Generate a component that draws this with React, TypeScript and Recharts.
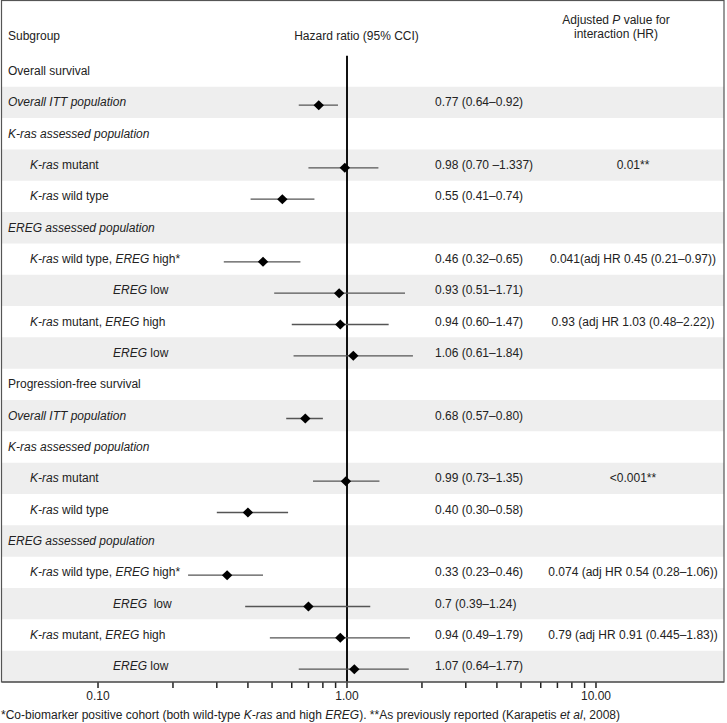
import React from 'react';
import {
  ScatterChart,
  Scatter,
  XAxis,
  YAxis,
  ErrorBar,
  ReferenceArea,
  ReferenceLine,
} from 'recharts';

// ---------- data ----------
const rowLabels: string[] = [
  'Overall survival',
  '_Overall ITT population_',
  '_K-ras assessed population_',
  '_K-ras_ mutant',
  '_K-ras_ wild type',
  '_EREG assessed population_',
  '_K-ras_ wild type, _EREG_ high*',
  '_EREG_ low',
  '_K-ras_ mutant, _EREG_ high',
  '_EREG_ low',
  'Progression-free survival',
  '_Overall ITT population_',
  '_K-ras assessed population_',
  '_K-ras_ mutant',
  '_K-ras_ wild type',
  '_EREG assessed population_',
  '_K-ras_ wild type, _EREG_ high*',
  '_EREG_  low',
  '_K-ras_ mutant, _EREG_ high',
  '_EREG_ low',
];
const rowLevels: number[] = [0, 0, 0, 1, 1, 0, 1, 2, 1, 2, 0, 0, 0, 1, 1, 0, 1, 2, 1, 2];
const hazardRatios: (number | null)[] = [
  null, 0.77, null, 0.98, 0.55, null, 0.46, 0.93, 0.94, 1.06,
  null, 0.68, null, 0.99, 0.4, null, 0.33, 0.7, 0.94, 1.07,
];
const ciLower: (number | null)[] = [
  null, 0.64, null, 0.7, 0.41, null, 0.32, 0.51, 0.6, 0.61,
  null, 0.57, null, 0.73, 0.3, null, 0.23, 0.39, 0.49, 0.64,
];
const ciUpper: (number | null)[] = [
  null, 0.92, null, 1.337, 0.74, null, 0.65, 1.71, 1.47, 1.84,
  null, 0.8, null, 1.35, 0.58, null, 0.46, 1.24, 1.79, 1.77,
];
const hrLabels: string[] = [
  '', '0.77 (0.64–0.92)', '', '0.98 (0.70 –1.337)', '0.55 (0.41–0.74)', '',
  '0.46 (0.32–0.65)', '0.93 (0.51–1.71)', '0.94 (0.60–1.47)', '1.06 (0.61–1.84)',
  '', '0.68 (0.57–0.80)', '', '0.99 (0.73–1.35)', '0.40 (0.30–0.58)', '',
  '0.33 (0.23–0.46)', '0.7 (0.39–1.24)', '0.94 (0.49–1.79)', '1.07 (0.64–1.77)',
];
const pLabels: string[] = [
  '', '', '', '0.01**', '', '', '0.041(adj HR 0.45 (0.21–0.97))', '',
  '0.93 (adj HR 1.03 (0.48–2.22))', '', '', '', '', '<0.001**', '', '',
  '0.074 (adj HR 0.54 (0.28–1.06))', '', '0.79 (adj HR 0.91 (0.445–1.83))', '',
];
const xTicks: number[] = [
  0.1, 0.2, 0.3, 0.4, 0.5, 0.6, 0.7, 0.8, 0.9,
  1, 2, 3, 4, 5, 6, 7, 8, 9, 10,
];
const xTickLabels: Record<string, string> = { '0.1': '0.10', '1': '1.00', '10': '10.00' };
const headerSubgroup = 'Subgroup';
const headerHR = 'Hazard ratio (95% CCI)';
const headerP1 = 'Adjusted _P_ value for';
const headerP2 = 'interaction (HR)';
const footnote =
  '*Co-biomarker positive cohort (both wild-type _K-ras_ and high _EREG_). **As previously reported (Karapetis _et al_, 2008)';

// ---------- layout ----------
const W = 727;
const H = 723;
const FONT = '"Liberation Sans", Arial, Helvetica, sans-serif';
const TEXT = '#222';
const ROW_SHIFT = 0.09; // bands/text sit slightly above the markers
const X_MIN = 0.04115;
const X_MAX = 32.67;
const LEVEL_X = [8, 30, 113];

const rowIdx = rowLabels.map((_, i) => i);
const points = rowIdx
  .filter((i) => hazardRatios[i] != null)
  .map((i) => ({
    row: i,
    hr: hazardRatios[i] as number,
    err: [
      (hazardRatios[i] as number) - (ciLower[i] as number),
      (ciUpper[i] as number) - (hazardRatios[i] as number),
    ],
  }));

function rich(s: string) {
  return s.split('_').map((seg, k) =>
    seg === '' ? null : (
      <tspan key={k} fontStyle={k % 2 === 1 ? 'italic' : 'normal'}>
        {seg}
      </tspan>
    )
  );
}

function RowTick(props: any) {
  const { y, payload } = props;
  const i = payload.value as number;
  const base = y + 1.2;
  const common = {
    fontFamily: FONT,
    fontSize: 12,
    fill: TEXT,
    style: { whiteSpace: 'pre' as const },
  };
  return (
    <g>
      <text x={LEVEL_X[rowLevels[i]]} y={base} textAnchor="start" {...common}>
        {rich(rowLabels[i])}
      </text>
      {hrLabels[i] ? (
        <text x={435} y={base} textAnchor="start" {...common}>
          {hrLabels[i]}
        </text>
      ) : null}
      {pLabels[i] ? (
        <text x={633} y={base} textAnchor="middle" {...common}>
          {pLabels[i]}
        </text>
      ) : null}
    </g>
  );
}

function Diamond(props: any) {
  const { cx, cy } = props;
  if (cx == null || cy == null) return <g />;
  const a = 5.2;
  const b = 5;
  return <path d={`M${cx},${cy - b}L${cx + a},${cy}L${cx},${cy + b}L${cx - a},${cy}Z`} fill="#000" />;
}

export default function App() {
  return (
    <div style={{ position: 'absolute', left: 0, top: 0, width: W, height: H, background: '#fff' }}>
      <ScatterChart
        width={W}
        height={H}
        margin={{ top: 55.4, right: 3, bottom: 11, left: 1 }}
      >
        {rowIdx
          .filter((i) => i % 2 === 1)
          .map((i) => (
            <ReferenceArea
              key={`band-${i}`}
              y1={i - 0.5 - ROW_SHIFT}
              y2={i + 0.5 - ROW_SHIFT}
              fill="#eeeeee"
              fillOpacity={1}
              stroke="none"
              ifOverflow="hidden"
            />
          ))}
        <XAxis
          type="number"
          dataKey="hr"
          scale="log"
          domain={[X_MIN, X_MAX]}
          allowDataOverflow
          ticks={xTicks}
          interval={0}
          tickFormatter={(v: number) => xTickLabels[String(v)] ?? ''}
          tickSize={6}
          tickMargin={3}
          height={30}
          axisLine={{ stroke: '#444', strokeWidth: 1.2 }}
          tickLine={{ stroke: '#222', strokeWidth: 1.5 }}
          tick={{ fontFamily: FONT, fontSize: 12, fill: TEXT }}
        />
        <YAxis
          type="number"
          dataKey="row"
          domain={[-0.5 - ROW_SHIFT, 19.5 - ROW_SHIFT]}
          allowDataOverflow
          reversed
          ticks={rowIdx}
          interval={0}
          width={1}
          axisLine={false}
          tickLine={false}
          tick={<RowTick />}
        />
        <ReferenceLine x={1} stroke="#111" strokeWidth={2} ifOverflow="hidden" />
        <Scatter data={points} shape={<Diamond />} isAnimationActive={false}>
          <ErrorBar dataKey="err" direction="x" width={0} stroke="#555" strokeWidth={1.3} isAnimationActive={false} />
        </Scatter>
      </ScatterChart>
      <svg
        width={W}
        height={H}
        style={{ position: 'absolute', left: 0, top: 0, pointerEvents: 'none' }}
      >
        <rect x={1.5} y={0.5} width={722.5} height={681.5} fill="none" stroke="#555" strokeWidth={1.2} />
        <g fontFamily={FONT} fontSize={12} fill={TEXT} style={{ whiteSpace: 'pre' }}>
          <text x={8} y={40}>{headerSubgroup}</text>
          <text x={356.5} y={40} textAnchor="middle">{headerHR}</text>
          <text x={616} y={24} textAnchor="middle">{rich(headerP1)}</text>
          <text x={616} y={37.5} textAnchor="middle">{headerP2}</text>
          <text x={1} y={719}>{rich(footnote)}</text>
        </g>
      </svg>
    </div>
  );
}
